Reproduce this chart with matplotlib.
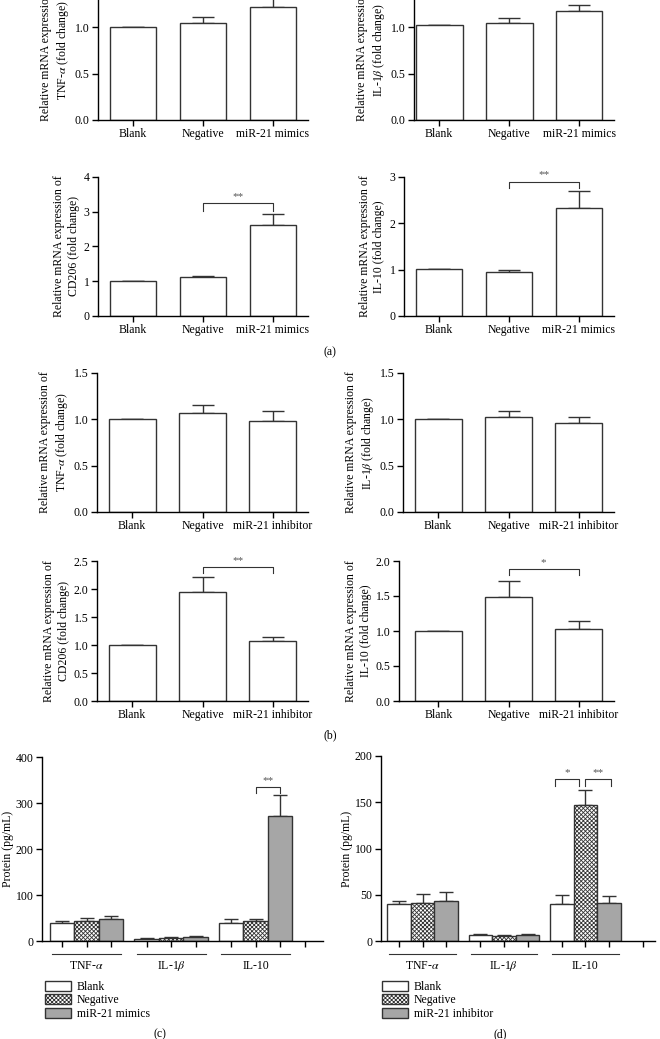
import numpy as np
import matplotlib
matplotlib.use('Agg')
import matplotlib.pyplot as plt
from matplotlib.patches import Patch

plt.rcParams['font.family'] = ['Liberation Serif', 'DejaVu Serif']
plt.rcParams['mathtext.fontset'] = 'stix'
plt.rcParams['hatch.linewidth'] = 0.6
plt.rcParams['axes.linewidth'] = 1.0

# ---- data ----
groups_mimic = ['Blank', 'Negative', 'miR-21 mimics']
groups_inhib = ['Blank', 'Negative', 'miR-21 inhibitor']

a_tnf = [1.0, 1.04, 1.21]
a_tnf_err = [0.0, 0.07, 0.12]
a_il1b = [1.02, 1.045, 1.17]
a_il1b_err = [0.0, 0.05, 0.065]
a_cd206 = [1.0, 1.11, 2.62]
a_cd206_err = [0.0, 0.05, 0.32]
a_il10 = [1.02, 0.955, 2.33]
a_il10_err = [0.0, 0.04, 0.37]

b_tnf = [1.0, 1.07, 0.985]
b_tnf_err = [0.0, 0.08, 0.11]
b_il1b = [1.0, 1.025, 0.965]
b_il1b_err = [0.0, 0.07, 0.06]
b_cd206 = [1.0, 1.95, 1.08]
b_cd206_err = [0.0, 0.27, 0.07]
b_il10 = [1.0, 1.49, 1.03]
b_il10_err = [0.0, 0.23, 0.11]

cytokines = ['TNF-$\\alpha$', 'IL-1$\\beta$', 'IL-10']
# protein (pg/mL): rows = cytokine, cols = Blank / Negative / treatment
c_protein = [[40, 44, 47], [5, 7, 9], [39, 43, 272]]
c_protein_err = [[2.5, 7, 7], [1, 2, 1.5], [8, 5.5, 46]]
d_protein = [[39.5, 41, 43], [7, 5, 6.5], [40, 146.5, 41.5]]
d_protein_err = [[3.5, 9.5, 10], [1, 1.5, 1], [10, 16.5, 7]]

W, H = 660, 1039
FS = 8.5
fig = plt.figure(figsize=(W / 100, H / 100), dpi=100)


def px_axes(x0, x1, ytop, ybot):
    return fig.add_axes([x0 / W, 1 - ybot / H, (x1 - x0) / W, (ybot - ytop) / H])


def style(ax):
    for s in ['top', 'right']:
        ax.spines[s].set_visible(False)
    ax.tick_params(direction='out', length=4, width=1, labelsize=FS, pad=2)


def mrna_panel(box, xlim, vals, errs, ymax, yticks, fmt, cats, gene, sig=None):
    ax = px_axes(*box)
    x = np.arange(3)
    ax.bar(x, vals, width=0.67, color='white', edgecolor='#333333', linewidth=1.0, zorder=2)
    ax.errorbar(x, vals, yerr=[np.zeros(3), errs], fmt='none', ecolor='#333333',
                elinewidth=1.0, capsize=8, capthick=1.0, zorder=1)
    ax.set_xlim(*xlim)
    ax.set_ylim(0, ymax)
    ax.set_yticks(yticks)
    ax.set_yticklabels([fmt.format(t) for t in yticks])
    ax.set_xticks(x)
    ax.set_xticklabels(cats)
    ax.set_ylabel('Relative mRNA expression of\n' + gene + ' (fold change)',
                  fontsize=FS, linespacing=1.25, labelpad=3)
    style(ax)
    if sig is not None:
        i, j, yb, yd, txt = sig
        ax.plot([i, i, j, j], [yd, yb, yb, yd], color='#333333', lw=0.8, clip_on=False)
        ax.text((i + j) / 2, yb + ymax * 0.015, txt, ha='center', va='bottom', fontsize=8,
                color='#555555')
    return ax


# ---- (a) ----
mrna_panel((98, 308, -19.5, 120), (-0.5, 2.5), a_tnf, a_tnf_err, 1.5,
           [0, 0.5, 1.0, 1.5], '{:.1f}', groups_mimic, 'TNF-$\\alpha$')
mrna_panel((414, 614, -19.5, 120), (-0.36, 2.5), a_il1b, a_il1b_err, 1.5,
           [0, 0.5, 1.0, 1.5], '{:.1f}', groups_mimic, 'IL-1$\\beta$')
mrna_panel((98, 308, 177, 316), (-0.5, 2.5), a_cd206, a_cd206_err, 4,
           [0, 1, 2, 3, 4], '{:.0f}', groups_mimic, 'CD206', (1, 2, 3.26, 3.03, '**'))
mrna_panel((404, 614, 177, 316), (-0.5, 2.5), a_il10, a_il10_err, 3,
           [0, 1, 2, 3], '{:.0f}', groups_mimic, 'IL-10', (1, 2, 2.9, 2.76, '**'))

# ---- (b) ----
mrna_panel((97, 308, 373, 512), (-0.5, 2.5), b_tnf, b_tnf_err, 1.5,
           [0, 0.5, 1.0, 1.5], '{:.1f}', groups_inhib, 'TNF-$\\alpha$')
mrna_panel((403, 614, 373, 512), (-0.5, 2.5), b_il1b, b_il1b_err, 1.5,
           [0, 0.5, 1.0, 1.5], '{:.1f}', groups_inhib, 'IL-1$\\beta$')
mrna_panel((97, 308, 561, 701), (-0.5, 2.5), b_cd206, b_cd206_err, 2.5,
           [0, 0.5, 1.0, 1.5, 2.0, 2.5], '{:.1f}', groups_inhib, 'CD206',
           (1, 2, 2.39, 2.28, '**'))
mrna_panel((399, 614, 561, 701), (-0.56, 2.5), b_il10, b_il10_err, 2.0,
           [0, 0.5, 1.0, 1.5, 2.0], '{:.1f}', groups_inhib, 'IL-10',
           (1, 2, 1.88, 1.80, '*'))

fig.text(330 / W, 1 - 352 / H, '(a)', ha='center', va='center', fontsize=FS)
fig.text(330 / W, 1 - 735 / H, '(b)', ha='center', va='center', fontsize=FS)

# ---- (c) and (d) protein ----
fills = ['white', 'white', '#a6a6a6']
hatches = ['', 'xxxxxxxx', '']
gstep = 3.45


def protein_panel(box, xlim, vals, errs, ymax, yticks, labels, extra_tick, sigs, legx, tag):
    ax = px_axes(*box)
    h = box[3] - box[2]
    ticks = []
    for g in range(3):
        for k in range(3):
            xp = g * gstep + k
            ticks.append(xp)
            ax.bar(xp, vals[g][k], width=1.0, color=fills[k], hatch=hatches[k],
                   edgecolor='#333333', linewidth=1.0, zorder=2)
            ax.errorbar(xp, vals[g][k], yerr=[[0], [errs[g][k]]], fmt='none',
                        ecolor='#333333', elinewidth=1.0, capsize=5.3, capthick=1.0, zorder=1)
        # group underline and name
        c = g * gstep + 1
        ax.plot([c - 1.41, c + 1.41], [-13 / h, -13 / h], color='#333333', lw=0.8,
                transform=ax.get_xaxis_transform(), clip_on=False)
        ax.text(c, -25 / h, cytokines[g], transform=ax.get_xaxis_transform(),
                ha='center', va='center', fontsize=FS)
    ticks.append(extra_tick)
    ax.set_xticks(ticks)
    ax.set_xticklabels([])
    ax.set_xlim(*xlim)
    ax.set_ylim(0, ymax)
    ax.set_yticks(yticks)
    ax.set_ylabel('Protein (pg/mL)', fontsize=FS, labelpad=1)
    style(ax)
    for i, j, yb, yd, txt in sigs:
        ax.plot([i, i, j, j], [yd, yb, yb, yd], color='#333333', lw=0.8, clip_on=False)
        ax.text((i + j) / 2, yb + ymax * 0.01, txt, ha='center', va='bottom', fontsize=8,
                color='#555555')
    handles = [Patch(facecolor=fills[k], hatch=hatches[k], edgecolor='#333333', lw=1.0)
               for k in range(3)]
    fig.legend(handles, labels, loc='upper left', bbox_to_anchor=(legx / W, 1 - 981 / H),
               frameon=False, fontsize=FS, handlelength=2.2, handleheight=0.9,
               labelspacing=0.12, borderpad=0, handletextpad=0.5, borderaxespad=0)
    fig.text(tag[1] / W, 1 - 1034 / H, tag[0], ha='center', va='center', fontsize=FS)
    return ax


i10 = 2 * gstep
protein_panel((42, 323, 757, 941), (-0.82, 10.65), c_protein, c_protein_err, 400,
              [0, 100, 200, 300, 400], groups_mimic, i10 + 3,
              [(i10 + 1, i10 + 2, 335, 322, '**')], 45, ('(c)', 160))
protein_panel((381, 655, 756, 941), (-0.76, 10.85), d_protein, d_protein_err, 200,
              [0, 50, 100, 150, 200], groups_inhib, i10 + 3.45,
              [(i10 - 0.3, i10 + 0.75, 175, 168, '*'), (i10 + 1.0, i10 + 2.1, 175, 168, '**')],
              382, ('(d)', 500))

fig.savefig('out.png', dpi=100)
